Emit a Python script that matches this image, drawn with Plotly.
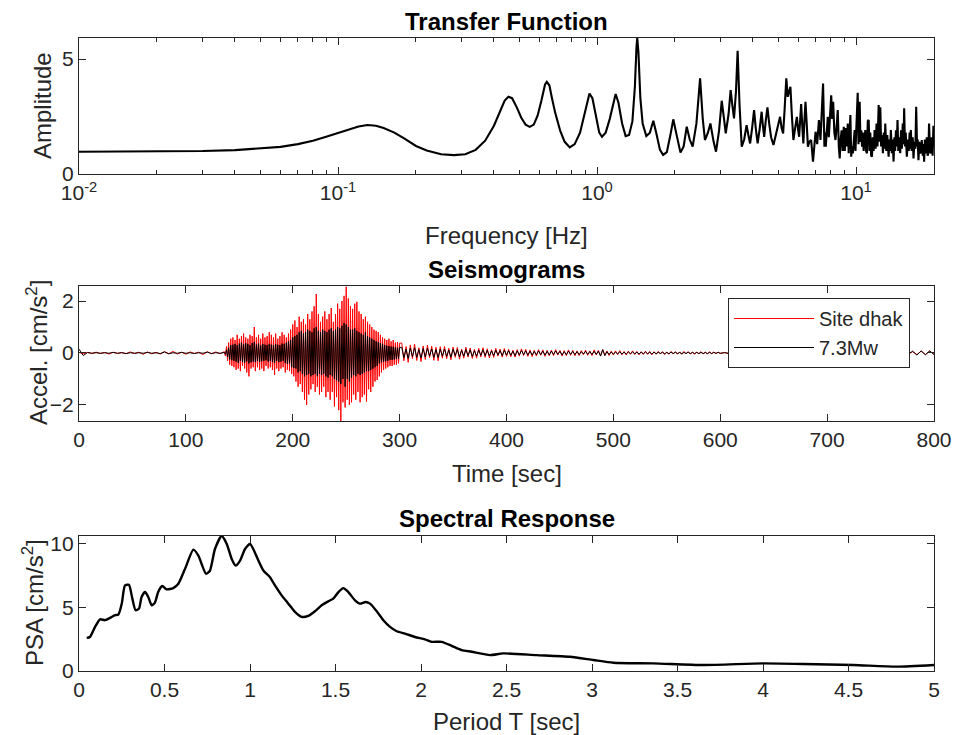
import plotly.graph_objects as go

# ---------------- Transfer function ----------------
tf_freq = [
    0.01, 0.015, 0.02, 0.03, 0.04, 0.05, 0.06, 0.07, 0.08, 0.09,
    0.1, 0.11, 0.12, 0.13, 0.14, 0.15, 0.165, 0.18, 0.2, 0.22,
    0.25, 0.28, 0.31, 0.34, 0.37, 0.4, 0.42, 0.44, 0.455, 0.47,
    0.49, 0.51, 0.53, 0.55, 0.57, 0.59, 0.61, 0.63, 0.64, 0.655,
    0.67, 0.69, 0.72, 0.75, 0.785, 0.82, 0.86, 0.9, 0.935, 0.96,
    0.99, 1.02, 1.045, 1.08, 1.12, 1.16, 1.18, 1.21, 1.25, 1.29,
    1.33, 1.37, 1.4, 1.42, 1.43, 1.445, 1.47, 1.5, 1.55, 1.6,
    1.65, 1.7, 1.75, 1.8, 1.86, 1.92, 1.97, 2.02, 2.1, 2.16,
    2.22, 2.28, 2.34, 2.42, 2.5, 2.56, 2.61, 2.68, 2.74, 2.82,
    2.88, 2.96, 3.03, 3.1, 3.14, 3.22, 3.28, 3.33, 3.38, 3.44,
    3.49, 3.55, 3.62, 3.7, 3.78, 3.84, 3.9, 3.97, 4.04, 4.1,
    4.17, 4.25, 4.32, 4.37, 4.42, 4.48, 4.55, 4.62, 4.7, 4.8,
    4.92, 5.02, 5.09, 5.16, 5.23, 5.3, 5.38, 5.45, 5.52, 5.58,
    5.65, 5.73, 5.82, 5.91, 5.98, 6.03, 6.09, 6.14, 6.2, 6.26,
    6.32, 6.38, 6.45, 6.52, 6.6, 6.71, 6.82, 6.98, 7.08, 7.19,
    7.29, 7.38, 7.46, 7.55, 7.6, 7.64, 7.72, 7.78, 7.85, 7.92,
    8.02, 8.09, 8.16, 8.25, 8.33, 8.42, 8.5, 8.58, 8.65, 8.72,
    8.8, 8.88, 8.97, 9.05, 9.13, 9.21, 9.29, 9.37, 9.45, 9.51,
    9.58, 9.65, 9.72, 9.8, 9.88, 9.95, 10.05, 10.15, 10.22, 10.33,
    10.4, 10.48, 10.55, 10.62, 10.7, 10.78, 10.86, 10.94, 11.02, 11.1,
    11.19, 11.27, 11.35, 11.44, 11.52, 11.6, 11.7, 11.8, 11.9, 12.0,
    12.1, 12.23, 12.32, 12.41, 12.5, 12.6, 12.7, 12.8, 12.9, 12.97,
    13.08, 13.2, 13.36, 13.45, 13.54, 13.63, 13.75, 13.86, 13.96, 14.06,
    14.16, 14.26, 14.36, 14.46, 14.56, 14.7, 14.81, 14.92, 15.03, 15.15,
    15.25, 15.34, 15.45, 15.55, 15.71, 15.85, 15.98, 16.1, 16.2, 16.28,
    16.4, 16.55, 16.67, 16.8, 16.95, 17.07, 17.2, 17.3, 17.42, 17.55,
    17.7, 17.82, 17.94, 18.1, 18.2, 18.32, 18.45, 18.6, 18.76, 18.9,
    19.02, 19.14, 19.3, 19.48, 19.6, 19.75, 19.9, 20.0,
]
tf_amp = [
    0.97, 0.98, 0.99, 1.0, 1.04, 1.1, 1.18, 1.3, 1.45, 1.62,
    1.78, 1.93, 2.07, 2.13, 2.1, 2.0, 1.8, 1.55, 1.22, 1.02,
    0.86, 0.82, 0.86, 1.05, 1.45, 2.1, 2.7, 3.2, 3.36, 3.3,
    2.9, 2.45, 2.15, 2.05, 2.15, 2.55, 3.2, 3.9, 4.01, 3.85,
    3.3, 2.65, 1.9, 1.4, 1.16, 1.3, 1.8, 2.7, 3.5, 3.3,
    2.5, 1.8, 1.62, 1.8, 2.4, 3.2, 3.48, 3.1, 2.2, 1.65,
    1.7, 2.3, 3.8, 5.5, 5.92, 5.3, 3.3, 2.2, 1.65, 1.8,
    2.32, 1.7, 1.05, 0.83, 0.95, 1.7, 2.38, 1.8, 0.93, 1.2,
    2.06, 1.5, 1.19, 2.2, 4.16, 2.4, 1.48, 1.8, 2.2, 1.4,
    0.97, 1.9, 3.19, 2.3, 1.77, 2.6, 3.65, 3.0, 2.42, 3.6,
    5.36, 3.0, 1.19, 1.5, 2.13, 1.7, 1.33, 2.0, 2.78, 2.0,
    1.33, 2.0, 2.71, 2.1, 1.62, 2.3, 2.9, 2.2, 1.6, 1.26,
    1.8, 2.2, 2.49, 2.0, 1.77, 2.8, 4.16, 3.36, 3.6, 3.8,
    2.6, 1.48, 2.0, 2.49, 1.9, 1.62, 2.4, 3.04, 2.1, 1.33,
    2.3, 3.14, 2.2, 1.19, 1.4, 1.48, 0.54, 1.84, 1.3, 2.35,
    1.48, 2.6, 3.94, 1.19, 1.8, 1.19, 2.0, 2.49, 1.6, 2.7,
    3.43, 2.4, 3.14, 1.8, 1.48, 2.1, 2.78, 1.2, 0.68, 1.5,
    1.9, 1.0, 2.06, 1.0, 2.0, 1.2, 2.2, 0.9, 2.3, 2.57,
    0.75, 1.2, 0.9, 1.7, 1.91, 1.0, 2.5, 3.54, 1.3, 3.14,
    1.4, 1.9, 1.19, 1.8, 1.0, 1.7, 1.91, 1.0, 0.9, 2.3,
    2.35, 1.0, 1.8, 0.8, 0.75, 1.6, 1.0, 1.91, 1.1, 2.2,
    1.2, 3.0, 1.4, 2.9, 1.2, 1.7, 0.9, 1.8, 1.1, 2.2,
    1.0, 1.7, 0.75, 1.5, 1.0, 1.91, 0.9, 1.5, 0.54, 1.6,
    1.0, 1.9, 1.2, 2.35, 1.0, 1.6, 0.9, 1.9, 1.1, 2.2,
    1.3, 2.86, 1.2, 1.8, 0.75, 1.5, 1.0, 1.8, 1.1, 1.91,
    1.0, 1.6, 0.68, 1.4, 1.1, 2.93, 1.2, 1.5, 0.6, 1.4,
    0.9, 1.0, 1.48, 0.8, 1.3, 0.54, 1.5, 0.9, 1.6, 0.8,
    0.9, 2.2, 1.0, 0.9, 1.6, 0.8, 2.1, 1.2,
]

# ---------------- Seismograms (sampled in 4 segments) ----------------
seg_start = [0, 136, 302, 604]   # seconds
seg_step = [4, 1, 2, 4]          # seconds

site_a = [0.02, -0.03, 0.02, -0.02, 0.03, -0.02, 0.02, -0.04, 0.03, -0.02,
          0.02, -0.03, 0.04, -0.02, 0.03, -0.05, 0.04, -0.03, 0.02, -0.04,
          0.05, -0.03, 0.06, -0.04, 0.03, -0.05, 0.04, -0.02, 0.03, -0.06,
          0.05, -0.03, 0.04, -0.03]
site_b = [0.05, -0.12, 0.25, -0.3, 0.4, -0.45, 0.55, -0.5, 0.6, -0.55,
          0.5, -0.65, 0.7, -0.6, 0.55, -0.7, 0.65, -0.5, 0.75, -0.6,
          0.6, -0.75, 0.55, -0.9, 0.7, -0.6, 0.65, -0.55, 1.0, -0.7,
          0.6, -0.55, 0.7, -0.65, 0.55, -0.6, 0.75, -0.7, 0.6, -0.5,
          0.65, -0.6, 0.8, -0.55, 0.7, -0.65, 0.6, -0.85, 0.75, -0.6,
          0.55, -0.7, 0.65, -0.6, 0.8, -0.55, 0.7, -0.75, 0.6, -0.65,
          0.75, -0.7, 0.9, -0.8, 1.1, -0.9, 1.25, -1.1, 1.0, -1.3,
          1.4, -1.2, 1.2, -1.5, 1.3, -1.8, 1.1, -2.0, 1.5, -1.6,
          1.3, -1.4, 1.6, -1.2, 1.8, -1.5, 2.27, -1.3, 1.5, -1.6,
          1.2, -1.5, 1.4, -1.3, 1.6, -1.7, 1.3, -1.5, 1.5, -1.8,
          1.73, -1.5, 1.2, -2.06, 1.5, -1.7, 1.9, -2.2, 1.7, -2.62,
          2.0, -1.9, 2.2, -2.1, 2.55, -1.8, 2.1, -2.0, 1.8, -1.9,
          1.7, -1.6, 1.9, -1.8, 1.97, -1.5, 1.6, -1.9, 1.5, -1.7,
          1.3, -1.6, 1.4, -1.87, 1.2, -1.4, 1.1, -1.5, 1.0, -1.3,
          0.9, -1.1, 0.85, -1.04, 0.8, -0.9, 0.7, -0.75, 0.6, -0.65,
          0.55, -0.6, 0.5, -0.55, 0.55, -0.5, 0.45, -0.5, 0.5, -0.45,
          0.4, -0.45, 0.42, -0.4, 0.38]
site_c = [0.38, -0.3, 0.25, -0.36, 0.31, -0.22, 0.34, -0.29, 0.2, -0.33,
          0.27, -0.25, 0.3, -0.18, 0.26, -0.28, 0.22, -0.3, 0.24, -0.2,
          0.25, -0.22, 0.18, -0.26, 0.23, -0.17, 0.21, -0.24, 0.15, -0.2,
          0.22, -0.16, 0.19, -0.21, 0.14, -0.2, 0.18, -0.15, 0.2, -0.17,
          0.16, -0.19, 0.13, -0.17, 0.18, -0.12, 0.15, -0.16, 0.17, -0.13,
          0.14, -0.15, 0.11, -0.16, 0.13, -0.12, 0.16, -0.1, 0.14, -0.13,
          0.12, -0.14, 0.1, -0.12, 0.13, -0.09, 0.12, -0.13, 0.1, -0.11,
          0.11, -0.1, 0.13, -0.08, 0.1, -0.12, 0.09, -0.1, 0.12, -0.09,
          0.1, -0.11, 0.08, -0.1, 0.09, -0.07, 0.11, -0.09, 0.08, -0.1,
          0.12, -0.08, 0.1, -0.11, 0.13, -0.09, 0.08, -0.1, 0.07, -0.08,
          0.08, -0.06, 0.09, -0.07, 0.06, -0.08, 0.07, -0.05, 0.08, -0.06,
          0.06, -0.07, 0.05, -0.06, 0.07, -0.05, 0.06, -0.07, 0.05, -0.05,
          0.06, -0.04, 0.05, -0.06, 0.04, -0.05, 0.06, -0.04, 0.05, -0.05,
          0.04, -0.05, 0.06, -0.03, 0.05, -0.04, 0.03, -0.05, 0.04, -0.03,
          0.05, -0.04, 0.03, -0.04, 0.05, -0.03, 0.04, -0.03, 0.03, -0.02]
site_d = [0.02, -0.03, 0.04, -0.02, 0.03, -0.02, 0.02, -0.03, 0.02, -0.02,
          0.02, -0.02, 0.03, -0.02, 0.02, -0.03, 0.02, -0.02, 0.02, -0.02,
          0.02, -0.02, 0.02, -0.03, 0.02, -0.02, 0.03, -0.02, 0.02, -0.02,
          0.02, -0.03, 0.02, -0.02, 0.03, -0.02, 0.02, -0.02, 0.03, -0.02,
          0.02, -0.03, 0.03, -0.04, 0.05, -0.06, 0.07, -0.06, 0.07, -0.05]

rock_a = [0.15, -0.1, 0.02, -0.01, 0.01, -0.01, 0.01, -0.01, 0.02, -0.01,
          0.01, -0.02, 0.01, -0.01, 0.01, -0.01, 0.02, -0.01, 0.01, -0.02,
          0.04, -0.03, 0.01, -0.01, 0.02, -0.01, 0.01, -0.02, 0.01, -0.01,
          0.03, -0.02, 0.01, -0.01]
rock_b = [0.02, -0.05, 0.12, -0.15, 0.2, -0.25, 0.3, -0.28, 0.32, -0.3,
          0.35, -0.33, 0.3, -0.38, 0.36, -0.3, 0.4, -0.35, 0.33, -0.37,
          0.38, -0.32, 0.35, -0.4, 0.3, -0.36, 0.38, -0.33, 0.42, -0.35,
          0.33, -0.3, 0.36, -0.34, 0.3, -0.32, 0.35, -0.3, 0.32, -0.28,
          0.3, -0.33, 0.35, -0.3, 0.32, -0.35, 0.3, -0.38, 0.34, -0.3,
          0.32, -0.35, 0.3, -0.33, 0.36, -0.3, 0.35, -0.38, 0.4, -0.42,
          0.45, -0.4, 0.5, -0.55, 0.6, -0.58, 0.65, -0.6, 0.7, -0.75,
          0.8, -0.7, 0.85, -0.8, 0.75, -0.9, 0.8, -0.85, 0.9, -0.8,
          0.85, -0.9, 0.8, -0.85, 0.95, -0.8, 1.0, -0.9, 0.85, -0.8,
          0.8, -0.85, 0.9, -0.8, 0.85, -0.9, 0.8, -0.95, 0.9, -0.85,
          0.95, -0.9, 0.85, -1.0, 0.9, -1.05, 1.0, -1.1, 0.95, -1.2,
          1.05, -1.0, 1.15, -1.3, 1.1, -1.0, 1.0, -1.1, 0.9, -0.95,
          0.9, -0.85, 0.95, -0.9, 0.85, -0.8, 0.8, -0.85, 0.75, -0.8,
          0.7, -0.75, 0.8, -0.7, 0.65, -0.7, 0.6, -0.65, 0.55, -0.6,
          0.5, -0.55, 0.45, -0.5, 0.42, -0.4, 0.38, -0.36, 0.35, -0.33,
          0.3, -0.32, 0.28, -0.3, 0.27, -0.26, 0.25, -0.27, 0.24, -0.25,
          0.22, -0.23, 0.2, -0.22, 0.21]
rock_c = [0.22, -0.18, 0.15, -0.21, 0.19, -0.14, 0.2, -0.17, 0.13, -0.19,
          0.17, -0.15, 0.18, -0.12, 0.16, -0.17, 0.13, -0.18, 0.15, -0.12,
          0.15, -0.13, 0.11, -0.16, 0.14, -0.1, 0.13, -0.14, 0.1, -0.12,
          0.13, -0.1, 0.12, -0.13, 0.09, -0.12, 0.11, -0.09, 0.12, -0.1,
          0.1, -0.11, 0.08, -0.1, 0.11, -0.08, 0.09, -0.1, 0.1, -0.08,
          0.09, -0.09, 0.07, -0.1, 0.08, -0.07, 0.09, -0.06, 0.08, -0.08,
          0.07, -0.08, 0.06, -0.07, 0.08, -0.06, 0.07, -0.08, 0.06, -0.07,
          0.07, -0.06, 0.08, -0.05, 0.06, -0.07, 0.05, -0.06, 0.07, -0.05,
          0.06, -0.06, 0.05, -0.06, 0.05, -0.04, 0.06, -0.05, 0.05, -0.06,
          0.06, -0.05, 0.07, -0.12, 0.13, -0.1, 0.05, -0.06, 0.04, -0.05,
          0.04, -0.04, 0.05, -0.04, 0.03, -0.04, 0.04, -0.03, 0.04, -0.03,
          0.03, -0.04, 0.03, -0.03, 0.04, -0.03, 0.03, -0.04, 0.03, -0.03,
          0.03, -0.02, 0.03, -0.03, 0.02, -0.03, 0.03, -0.02, 0.03, -0.02,
          0.02, -0.03, 0.02, -0.02, 0.03, -0.02, 0.02, -0.02, 0.02, -0.02,
          0.02, -0.02, 0.02, -0.02, 0.02, -0.02, 0.02, -0.01, 0.02, -0.01]
rock_d = [0.01, -0.01, 0.01, -0.01, 0.01, -0.01, 0.01, -0.01, 0.01, -0.01,
          0.01, -0.01, 0.01, -0.01, 0.01, -0.01, 0.01, -0.01, 0.01, -0.01,
          0.01, -0.01, 0.01, -0.01, 0.01, -0.01, 0.01, -0.01, 0.01, -0.01,
          0.01, -0.01, 0.01, -0.01, 0.01, -0.01, 0.01, -0.01, 0.01, -0.01,
          0.01, -0.02, 0.03, -0.05, 0.07, -0.08, 0.08, -0.07, 0.08, -0.06]

# ---------------- Spectral response ----------------
sr_period = [0.045, 0.064, 0.094, 0.123, 0.152, 0.181, 0.211, 0.23, 0.25, 0.269,
             0.292, 0.312, 0.331, 0.351, 0.366, 0.386, 0.405, 0.425, 0.444, 0.463,
             0.487, 0.512, 0.551, 0.581, 0.62, 0.669, 0.698, 0.743, 0.766, 0.795,
             0.834, 0.864, 0.893, 0.916, 0.942, 0.971, 1.0, 1.019, 1.049, 1.078,
             1.117, 1.146, 1.185, 1.224, 1.263, 1.302, 1.341, 1.38, 1.419, 1.458,
             1.487, 1.517, 1.546, 1.575, 1.614, 1.643, 1.676, 1.702, 1.741, 1.78,
             1.819, 1.858, 1.906, 1.965, 2.023, 2.062, 2.121, 2.179, 2.238, 2.296,
             2.404, 2.481, 2.676, 2.871, 3.008, 3.125, 3.359, 3.651, 4.0, 4.237,
             4.528, 4.782, 5.0]
sr_psa = [2.6, 2.67, 3.46, 4.06, 3.99, 4.17, 4.38, 4.43, 5.29, 6.72,
          6.77, 5.68, 4.77, 4.9, 5.81, 6.2, 5.81, 5.16, 5.37, 6.2,
          6.67, 6.41, 6.51, 6.85, 8.02, 9.53, 9.06, 7.63, 7.89, 9.58,
          10.6, 9.98, 8.8, 8.28, 8.67, 9.58, 9.98, 9.58, 8.67, 7.89,
          7.37, 6.72, 5.94, 5.29, 4.64, 4.25, 4.33, 4.69, 5.16, 5.47,
          5.68, 6.2, 6.51, 6.2, 5.55, 5.29, 5.42, 5.29, 4.69, 3.99,
          3.46, 3.12, 2.94, 2.67, 2.49, 2.29, 2.29, 1.98, 1.64, 1.51,
          1.25, 1.38, 1.25, 1.12, 0.86, 0.65, 0.6, 0.47, 0.6, 0.55,
          0.47, 0.34, 0.47]

freq_tickvals = [0.01, 0.1, 1, 10]
freq_ticktext = ["10<sup>-2</sup>", "10<sup>-1</sup>", "10<sup>0</sup>", "10<sup>1</sup>"]
freq_minor = [0.02, 0.03, 0.04, 0.05, 0.06, 0.07, 0.08, 0.09,
              0.2, 0.3, 0.4, 0.5, 0.6, 0.7, 0.8, 0.9,
              2, 3, 4, 5, 6, 7, 8, 9]


def build_series(segments):
    t, v = [], []
    for start, step, vals in zip(seg_start, seg_step, segments):
        for i, a in enumerate(vals):
            t.append(start + step * i)
            v.append(a)
    return t, v


t_site, acc_site = build_series([site_a, site_b, site_c, site_d])
t_rock, acc_rock = build_series([rock_a, rock_b, rock_c, rock_d])

FONT = "Liberation Sans, Arial, Helvetica, sans-serif"
AX = "#262626"
W, H = 954, 735


def px_x(p):
    return p / W


def px_y(p):
    return 1 - p / H


axis_style = dict(
    showline=True, linecolor=AX, linewidth=1.3, mirror="allticks",
    ticks="inside", ticklen=7, tickwidth=1.2, tickcolor=AX,
    showgrid=False, zeroline=False, automargin=False,
    tickfont=dict(family=FONT, size=21, color=AX),
)

fig = go.Figure()

fig.add_trace(go.Scatter(x=tf_freq, y=tf_amp, mode="lines",
                         line=dict(color="black", width=2.1),
                         xaxis="x", yaxis="y", showlegend=False))
fig.add_trace(go.Scatter(x=t_site, y=acc_site, mode="lines", name="Site dhak",
                         line=dict(color="#ff0000", width=1.0),
                         xaxis="x2", yaxis="y2"))
fig.add_trace(go.Scatter(x=t_rock, y=acc_rock, mode="lines", name="7.3Mw",
                         line=dict(color="black", width=1.0),
                         xaxis="x2", yaxis="y2"))
fig.add_trace(go.Scatter(x=sr_period, y=sr_psa, mode="lines",
                         line=dict(color="black", width=2.4, shape="spline", smoothing=0.6),
                         xaxis="x3", yaxis="y3", showlegend=False))

xdom = [px_x(79), px_x(934)]

fig.update_layout(
    width=W, height=H,
    margin=dict(l=0, r=0, t=0, b=0, pad=0, autoexpand=False),
    paper_bgcolor="white", plot_bgcolor="white",
    font=dict(family=FONT, color=AX),
    xaxis=dict(axis_style, domain=xdom, type="log", range=[-2, 1.30103], anchor="y",
               tickvals=freq_tickvals, ticktext=freq_ticktext,
               minor=dict(tickvals=freq_minor, ticks="inside", ticklen=4,
                          tickcolor=AX, tickwidth=1)),
    yaxis=dict(axis_style, domain=[px_y(174), px_y(38)], range=[0, 5.92],
               tickvals=[0, 5], anchor="x"),
    xaxis2=dict(axis_style, domain=xdom, range=[0, 800], anchor="y2",
                tickvals=[0, 100, 200, 300, 400, 500, 600, 700, 800]),
    yaxis2=dict(axis_style, domain=[px_y(421), px_y(286)], range=[-2.62, 2.58],
                tickvals=[-2, 0, 2], anchor="x2"),
    xaxis3=dict(axis_style, domain=xdom, range=[0, 5], anchor="y3",
                tickvals=[0, 0.5, 1, 1.5, 2, 2.5, 3, 3.5, 4, 4.5, 5],
                ticktext=["0", "0.5", "1", "1.5", "2", "2.5", "3", "3.5", "4", "4.5", "5"]),
    yaxis3=dict(axis_style, domain=[px_y(671), px_y(536)], range=[0, 10.6],
                tickvals=[0, 5, 10], anchor="x3"),
    showlegend=True,
    legend=dict(x=px_x(728), y=px_y(298), xanchor="left", yanchor="top",
                bgcolor="white", bordercolor=AX, borderwidth=1,
                font=dict(family=FONT, size=20, color=AX),
                itemwidth=80, tracegroupgap=0),
)

annots = [
    ("<b>Transfer Function</b>", 506.5, 21, 0, 24, "black"),
    ("<b>Seismograms</b>", 506.5, 269, 0, 24, "black"),
    ("<b>Spectral Response</b>", 506.5, 518, 0, 24, "black"),
    ("Frequency [Hz]", 506.5, 235, 0, 24, AX),
    ("Time [sec]", 506.5, 474, 0, 24, AX),
    ("Period T [sec]", 506.5, 721, 0, 24, AX),
    ("Amplitude", 42, 106, -90, 24, AX),
    ("Accel. [cm/s<sup>2</sup>]", 37, 353, -90, 24, AX),
    ("PSA [cm/s<sup>2</sup>]", 33, 603, -90, 24, AX),
]
for text, x, y, ang, size, col in annots:
    fig.add_annotation(text=text, x=px_x(x), y=px_y(y), xref="paper", yref="paper",
                       xanchor="center", yanchor="middle", showarrow=False,
                       textangle=ang, font=dict(family=FONT, size=size, color=col))

# The page's default body margin would push the figure 8px off the window.
page_fix = ("document.body.style.margin='0';"
            "document.body.style.overflow='hidden';")
fig.write_html("out.html", post_script=page_fix,
               config={"displayModeBar": False})
